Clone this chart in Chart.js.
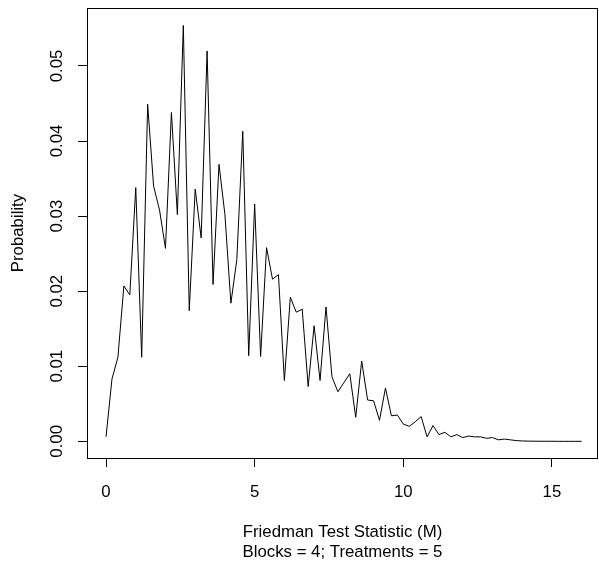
<!DOCTYPE html>
<html>
<head>
<meta charset="utf-8">
<script src="https://cdn.jsdelivr.net/npm/chart.js@4/dist/chart.umd.min.js"></script>
<style>
  html, body { margin: 0; padding: 0; background: #fff; }
  #chart { display: block; }
</style>
</head>
<body>
<canvas id="chart" width="599" height="566"></canvas>
<script>
// Friedman test statistic M, blocks = 4, treatments = 5
var mValues = [
	0.0, 0.2, 0.4, 0.6, 0.8, 1.0, 1.2, 1.4, 1.6, 1.8,
	2.0, 2.2, 2.4, 2.6, 2.8, 3.0, 3.2, 3.4, 3.6, 3.8,
	4.0, 4.2, 4.4, 4.6, 4.8, 5.0, 5.2, 5.4, 5.6, 5.8,
	6.0, 6.2, 6.4, 6.6, 6.8, 7.0, 7.2, 7.4, 7.6, 7.8,
	8.0, 8.2, 8.4, 8.6, 8.8, 9.0, 9.2, 9.4, 9.6, 9.8,
	10.0, 10.2, 10.4, 10.6, 10.8, 11.0, 11.2, 11.4, 11.6, 11.8,
	12.0, 12.2, 12.4, 12.6, 12.8, 13.0, 13.2, 13.4, 13.6, 13.8,
	14.0, 14.2, 14.4, 14.6, 14.8, 15.0, 15.2, 15.4, 15.6, 15.8,
	16.0
];

var probability = [
	0.0006, 0.0083, 0.0112, 0.0207, 0.0195, 0.0338, 0.0112, 0.0449, 0.0340, 0.0308,
	0.0257, 0.0438, 0.0302, 0.0554, 0.0174, 0.0336, 0.0271, 0.0520, 0.0209, 0.0369,
	0.0302, 0.0184, 0.0242, 0.0413, 0.0114, 0.0316, 0.0113, 0.0258, 0.0216, 0.0222,
	0.0081, 0.0192, 0.0172, 0.0176, 0.0073, 0.0154, 0.0081, 0.0179, 0.0086, 0.0066,
	0.0078, 0.0090, 0.0032, 0.0107, 0.0055, 0.0054, 0.0028, 0.0071, 0.0034, 0.0035,
	0.0023, 0.0020, 0.0026, 0.0033, 0.0006, 0.0021, 0.0009, 0.0012, 0.0006, 0.0009,
	0.0005, 0.0007, 0.0006, 0.0006, 0.0004, 0.0005, 0.0002, 0.0003, 0.0002, 0.0001,
	0.00005, 0.00003, 0.00002, 0.00001, 0.00001, 0.00001, 0, 0, 0, 0,
	0
];

var xTicks = [0, 5, 10, 15];
var yTicks = [0.00, 0.01, 0.02, 0.03, 0.04, 0.05];

var fontFamily = "'Liberation Sans', Arial, sans-serif";
var fontSize = 16.8;

var points = mValues.map(function (m, i) {
	return { x: m, y: probability[i] };
});

// R style box around the plot region
var boxPlugin = {
	id: 'box',
	afterDraw: function (chart) {
		var a = chart.chartArea;
		var ctx = chart.ctx;
		ctx.save();
		ctx.strokeStyle = '#000';
		ctx.lineWidth = 1;
		ctx.strokeRect(Math.round(a.left) + 0.5, Math.round(a.top) + 0.5,
			Math.round(a.right - a.left) - 1, Math.round(a.bottom - a.top));
		ctx.restore();
	}
};

function noLabelPadding(s) {
	s.paddingTop = 0;
	s.paddingBottom = 0;
	s.paddingLeft = 0;
	s.paddingRight = 0;
}

var ctx = document.getElementById('chart').getContext('2d');
new Chart(ctx, {
	type: 'line',
	data: {
		datasets: [{
			data: points,
			borderColor: '#000',
			borderWidth: 1,
			pointRadius: 0,
			tension: 0,
			fill: false
		}]
	},
	options: {
		responsive: false,
		animation: false,
		devicePixelRatio: 1,
		layout: { padding: { top: 8, right: 1, left: 0, bottom: 0 } },
		plugins: {
			legend: { display: false },
			tooltip: { enabled: false }
		},
		scales: {
			x: {
				type: 'linear',
				min: -0.64,
				max: 16.55,
				afterFit: function (s) { s.height = 108; noLabelPadding(s); },
				afterBuildTicks: function (s) {
					s.ticks = xTicks.map(function (v) { return { value: v }; });
				},
				border: { display: false },
				grid: { drawOnChartArea: false, drawTicks: true, tickLength: 9, color: '#000' },
				ticks: {
					color: '#000',
					padding: 15,
					maxRotation: 0,
					font: { family: fontFamily, size: fontSize, lineHeight: 1.2 },
					callback: function (v) { return String(v); }
				},
				title: {
					display: true,
					text: ['Friedman Test Statistic (M)', 'Blocks = 4; Treatments = 5'],
					color: '#000',
					font: { family: fontFamily, size: fontSize, lineHeight: 1.17 },
					padding: { top: 0, bottom: 3.7 }
				}
			},
			y: {
				type: 'linear',
				min: -0.00222,
				max: 0.05772,
				afterFit: function (s) { s.width = 87; noLabelPadding(s); },
				afterBuildTicks: function (s) {
					s.ticks = yTicks.map(function (v) { return { value: v }; });
				},
				border: { display: false },
				grid: { drawOnChartArea: false, drawTicks: true, tickLength: 9, color: '#000' },
				ticks: {
					color: '#000',
					minRotation: 90,
					maxRotation: 90,
					crossAlign: 'center',
					padding: 4,
					font: { family: fontFamily, size: fontSize, lineHeight: 1.2 },
					callback: function (v) { return v.toFixed(2); }
				},
				title: {
					display: true,
					text: 'Probability',
					color: '#000',
					font: { family: fontFamily, size: fontSize, lineHeight: 1.17 },
					padding: { top: 8.7, bottom: 0 }
				}
			}
		}
	},
	plugins: [boxPlugin]
});
</script>
</body>
</html>
